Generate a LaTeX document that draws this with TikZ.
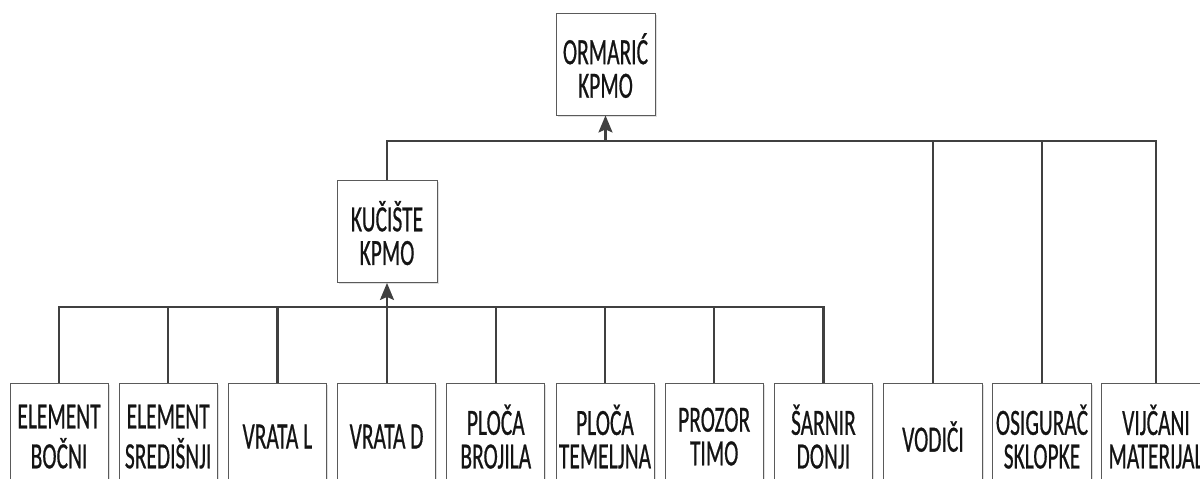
\documentclass[tikz,border=0pt]{standalone}
\usepackage{fontspec}
\setmainfont{Carlito}[FakeBold=0.8]
\usepackage{graphicx}
\usetikzlibrary{arrows.meta,shadows}
\definecolor{linec}{HTML}{404040}
\definecolor{boxc}{HTML}{5A5A5A}
\newcommand\lbl[1]{\raisebox{-12.5pt}[0pt][0pt]{\scalebox{0.58}[1]{\begin{tabular}{@{}c@{}}#1\end{tabular}}}}
\tikzset{
  box/.style={draw=boxc, line width=0.9pt, fill=white, inner sep=0pt,
    general shadow={shadow xshift=1.5pt, shadow yshift=-1.5pt, fill=black!12},
    font=\fontsize{37}{32}\selectfont, text=black!92},
  topbox/.style={box, minimum width=99pt, minimum height=102pt},
  botbox/.style={box, minimum width=98pt, minimum height=104pt},
  conn/.style={draw=linec, line width=2.2pt},
  arr/.style={conn, -{Stealth[length=17pt,width=14pt,inset=3pt]}}
}
\begin{document}
\begin{tikzpicture}[x=1pt,y=-1pt]
\useasboundingbox (0,0) rectangle (1200,479);
\clip (0,0) rectangle (1200,479);
% top nodes
\node[topbox] (orm) at (605.5,64) {\lbl{ORMARIĆ\\KPMO}};
\node[topbox, minimum width=100pt] (kuc) at (387,231.5) {\lbl{KUČIŠTE\\KPMO}};
% bottom row
\node[botbox] (b1) at (59,435) {\lbl{ELEMENT\\BOČNI}};
\node[botbox] (b2) at (168.2,435) {\lbl{ELEMENT\\SREDIŠNJI}};
\node[botbox] (b3) at (277.4,435) {\lbl{VRATA L}};
\node[botbox] (b4) at (386.6,435) {\lbl{VRATA D}};
\node[botbox] (b5) at (495.8,435) {\lbl{PLOČA\\BROJILA}};
\node[botbox] (b6) at (605,435) {\lbl{PLOČA\\TEMELJNA}};
\node[botbox] (b7) at (714.2,435) {\lbl{PROZOR\\TIMO}};
\node[botbox] (b8) at (823.4,435) {\lbl{ŠARNIR\\DONJI}};
\node[botbox, minimum width=99pt] (vod) at (933,435) {\lbl{VODIČI}};
\node[botbox, minimum width=99pt] (osi) at (1042,435) {\lbl{OSIGURAČ\\SKLOPKE}};
\node[botbox, minimum width=110pt] (vij) at (1156,435) {\lbl{VIJČANI\\MATERIJAL}};
% buses
\coordinate (bus1) at (605.5,141);
\coordinate (bus2) at (387,307);
\draw[conn] (kuc.north) |- (bus1) -| (vij.north);
\draw[conn] (bus1 -| vod.north) -- (vod.north);
\draw[conn] (bus1 -| osi.north) -- (osi.north);
\draw[arr] (bus1) -- (orm.south);
\draw[conn] (b1.north) |- (bus2) -| (b8.north);
\foreach \b in {b2,b3,b4,b5,b6,b7}
  \draw[conn] (bus2 -| \b.north) -- (\b.north);
\draw[arr] (bus2) -- (kuc.south);
\end{tikzpicture}
\end{document}
